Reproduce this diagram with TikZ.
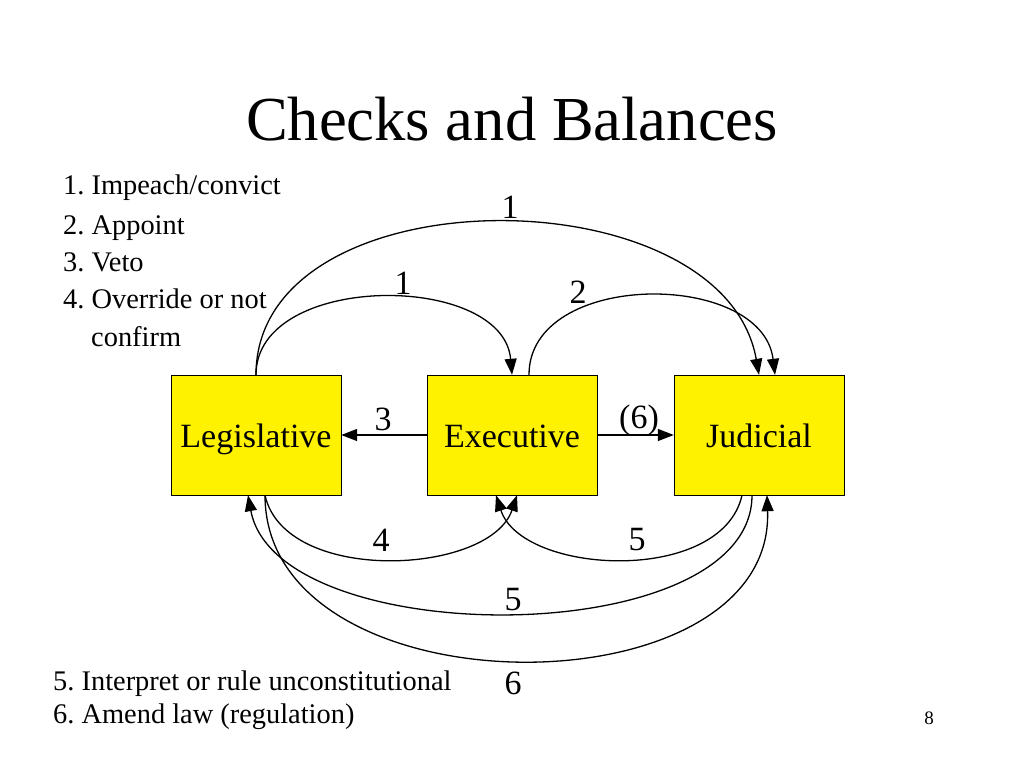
\documentclass[tikz,border=0pt]{standalone}
\usepackage{fontspec}
\setmainfont{Liberation Serif}
\usetikzlibrary{arrows.meta}
\frenchspacing

\begin{document}
\begin{tikzpicture}[x=1pt,y=-1pt,every node/.style={inner sep=0pt},
	branch/.style={draw,fill=yellow,minimum width=170pt,minimum height=120pt,font=\fontsize{34}{40}\selectfont,text height=24pt,text depth=0pt},
	num/.style={font=\fontsize{34}{40}\selectfont},
	item/.style={anchor=base west,font=\fontsize{28.4}{34}\selectfont},
	check/.style={line width=1.3pt,-{Triangle[length=16pt,width=12pt]}}]
	  \useasboundingbox (0,0) rectangle (1024,768);

	  \node[anchor=base,font=\fontsize{62.6}{70}\selectfont] (title) at (512,140) {Checks and Balances};

	  \node[branch] (leg) at (256,435) {Legislative};
	  \node[branch] (exec) at (512,435) {Executive};
	  \node[branch] (jud) at (759,435) {Judicial};

	  % arcs above the boxes
	  \draw[check] (leg.north) .. controls +(0,-203) and +(-36,-203) .. (jud.north);
	  \draw[check] (leg.north) .. controls +(0,-103) and +(-9,-103) .. (exec.north);
	  \draw[check] ([xshift=17pt]exec.north) .. controls +(0,-105) and +(-13,-105) .. ([xshift=16pt]jud.north);
	  \draw[check] (exec.west) -- (leg.east);
	  \draw[check] (exec.east) -- (jud.west);
	  % arcs below the boxes
	  \draw[check] ([xshift=9pt]leg.south) .. controls +(20,90) and +(-27,80) .. ([xshift=5pt]exec.south);
	  \draw[check] ([xshift=-17pt]jud.south) .. controls +(-20,90) and +(26,80) .. ([xshift=-16pt]exec.south);
	  \draw[check] ([xshift=-7pt]jud.south) .. controls +(0,157) and +(29,157) .. ([xshift=-8pt]leg.south);
	  \draw[check] ([xshift=9pt]leg.south) .. controls +(0,220) and +(8,220) .. ([xshift=8pt]jud.south);

	  \foreach \n/\t/\x/\y in {ia/1/510/207, ib/1/403/283, ap/2/578/292, ve/3/383/419, am/{(6)}/639/420,
	    ov/4/381/540, ri/5/637/540, ro/5/513/600, al/6/513/683}{\node[num] (\n) at (\x,\y) {\t};}

	  \node[item] (l1) at (63,194) {1. Impeach/convict};
	  \node[item] (l2) at (63,234) {2. Appoint};
	  \node[item] (l3) at (63,271) {3. Veto};
	  \node[item] (l4) at (63,308) {4. Override or not};
	  \node[item] (l4b) at (91,346) {confirm};
	  \node[item] (l5) at (53,690) {5. Interpret or rule unconstitutional};
	  \node[item] (l6) at (53,723) {6. Amend law (regulation)};

	  \node[font=\fontsize{19}{22}\selectfont] (page) at (929,718) {8};
	\end{tikzpicture}
\end{document}
